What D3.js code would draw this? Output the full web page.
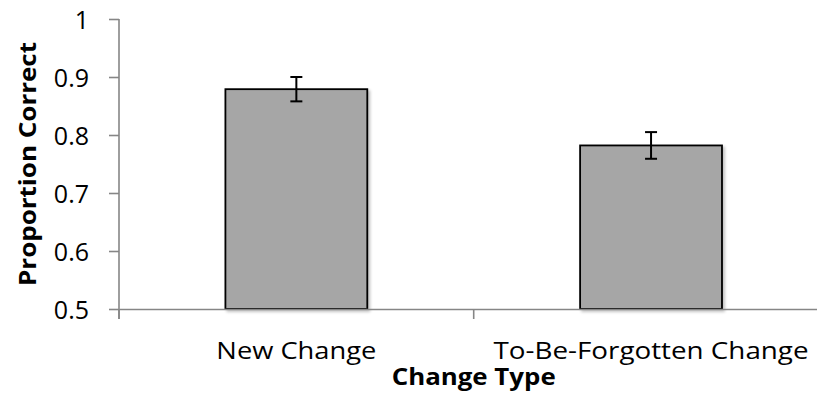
<!DOCTYPE html>
<html>
<head>
<meta charset="utf-8">
<script src="https://cdn.jsdelivr.net/npm/d3@7"></script>
<style>
  html, body { margin: 0; padding: 0; background: #fff; }
  svg { display: block; }
</style>
</head>
<body>
<svg id="chart" width="817" height="400"></svg>
<script>
const categories = ["New Change", "To-Be-Forgotten Change"];
const means = [0.879, 0.782];
const errors = [0.021, 0.023];
const yTicks = [0.5, 0.6, 0.7, 0.8, 0.9, 1];
const yDomain = [0.5, 1];
const xTitle = "Change Type";
const yTitle = "Proportion Correct";

const svg = d3.select("#chart");
const axisColor = "#868686";

const y = d3.scaleLinear().domain(yDomain).range([309, 19]);
const xOuter = d3.scaleBand().domain(categories).range([119, 828.4]).padding(0);
const x = d3.scaleBand().domain(categories).range([119, 828.4]).paddingInner(0.6).paddingOuter(0.3);

// shadow filter
const defs = svg.append("defs");
const f = defs.append("filter").attr("id", "sh").attr("x", "-10%").attr("y", "-10%").attr("width", "130%").attr("height", "130%");
f.append("feGaussianBlur").attr("in", "SourceAlpha").attr("stdDeviation", 1.5).attr("result", "b");
f.append("feOffset").attr("in", "b").attr("dx", 2).attr("dy", 2).attr("result", "o");
f.append("feComponentTransfer").attr("in", "o").attr("result", "oa")
  .append("feFuncA").attr("type", "linear").attr("slope", 0.25);
const m = f.append("feMerge");
m.append("feMergeNode").attr("in", "oa");
m.append("feMergeNode").attr("in", "SourceGraphic");

// bars
const data = categories.map((c, i) => ({ c, v: means[i], e: errors[i] }));
svg.append("g").selectAll("rect").data(data).join("rect")
  .attr("x", d => x(d.c))
  .attr("y", d => y(d.v))
  .attr("width", x.bandwidth())
  .attr("height", d => y(yDomain[0]) - y(d.v))
  .attr("fill", "#a6a6a6")
  .attr("stroke", "#000")
  .attr("stroke-width", 1.8)
  .attr("filter", "url(#sh)");

// y axis
const yAxis = d3.axisLeft(y).tickValues(yTicks).tickSize(10).tickPadding(20)
  .tickFormat(d => d === 1 ? "1" : d3.format(".1f")(d));
const gy = svg.append("g").attr("transform", "translate(119,0)").call(yAxis);
gy.select(".domain").remove();
gy.selectAll(".tick line").attr("stroke", axisColor).attr("stroke-width", 1.6);
gy.selectAll(".tick text")
  .attr("font-family", "'Open Sans', sans-serif")
  .attr("font-size", 25)
  .attr("fill", "#000")
  .attr("dy", "0.36em")
  .attr("x", -30);
svg.append("line")
  .attr("x1", 119).attr("x2", 119)
  .attr("y1", y(yDomain[1])).attr("y2", y(yDomain[0]) + 10)
  .attr("stroke", axisColor).attr("stroke-width", 1.6);

// x axis
const xAxis = d3.axisBottom(xOuter).tickSize(0).tickFormat("");
const gx = svg.append("g").attr("transform", `translate(0,${y(yDomain[0])})`).call(xAxis);
gx.select(".domain").attr("stroke", axisColor).attr("stroke-width", 1.6);
gx.selectAll(".tick").remove();
const bounds = categories.map(c => xOuter(c)).concat([xOuter.range()[1]]);
svg.append("g").selectAll("line").data(bounds).join("line")
  .attr("x1", d => d).attr("x2", d => d)
  .attr("y1", y(yDomain[0])).attr("y2", y(yDomain[0]) + 10)
  .attr("stroke", axisColor).attr("stroke-width", 1.6);

// category labels
const labelWidths = [160, 315];
svg.append("g").selectAll("text").data(categories).join("text")
  .attr("x", d => x(d) + x.bandwidth() / 2)
  .attr("y", 359)
  .attr("text-anchor", "middle")
  .attr("font-family", "'Open Sans', sans-serif")
  .attr("font-size", 24)
  .attr("fill", "#000")
  .attr("textLength", (d, i) => labelWidths[i])
  .attr("lengthAdjust", "spacingAndGlyphs")
  .text(d => d);

// error bars
const eg = svg.append("g").attr("stroke", "#000").attr("stroke-width", 2);
data.forEach(d => {
  const cx = x(d.c) + x.bandwidth() / 2;
  eg.append("line").attr("x1", cx).attr("x2", cx).attr("y1", y(d.v + d.e)).attr("y2", y(d.v - d.e));
  eg.append("line").attr("x1", cx - 6).attr("x2", cx + 6).attr("y1", y(d.v + d.e)).attr("y2", y(d.v + d.e));
  eg.append("line").attr("x1", cx - 6).attr("x2", cx + 6).attr("y1", y(d.v - d.e)).attr("y2", y(d.v - d.e));
});

// axis titles
svg.append("text")
  .attr("x", (xOuter.range()[0] + xOuter.range()[1]) / 2)
  .attr("y", 385)
  .attr("text-anchor", "middle")
  .attr("font-family", "'Open Sans', sans-serif")
  .attr("font-weight", "bold")
  .attr("font-size", 24)
  .attr("fill", "#000")
  .attr("textLength", 164)
  .attr("lengthAdjust", "spacingAndGlyphs")
  .text(xTitle);

svg.append("text")
  .attr("transform", "translate(36,164) rotate(-90)")
  .attr("text-anchor", "middle")
  .attr("font-family", "'Open Sans', sans-serif")
  .attr("font-weight", "bold")
  .attr("font-size", 24)
  .attr("fill", "#000")
  .attr("textLength", 244)
  .attr("lengthAdjust", "spacingAndGlyphs")
  .text(yTitle);
</script>
</body>
</html>
